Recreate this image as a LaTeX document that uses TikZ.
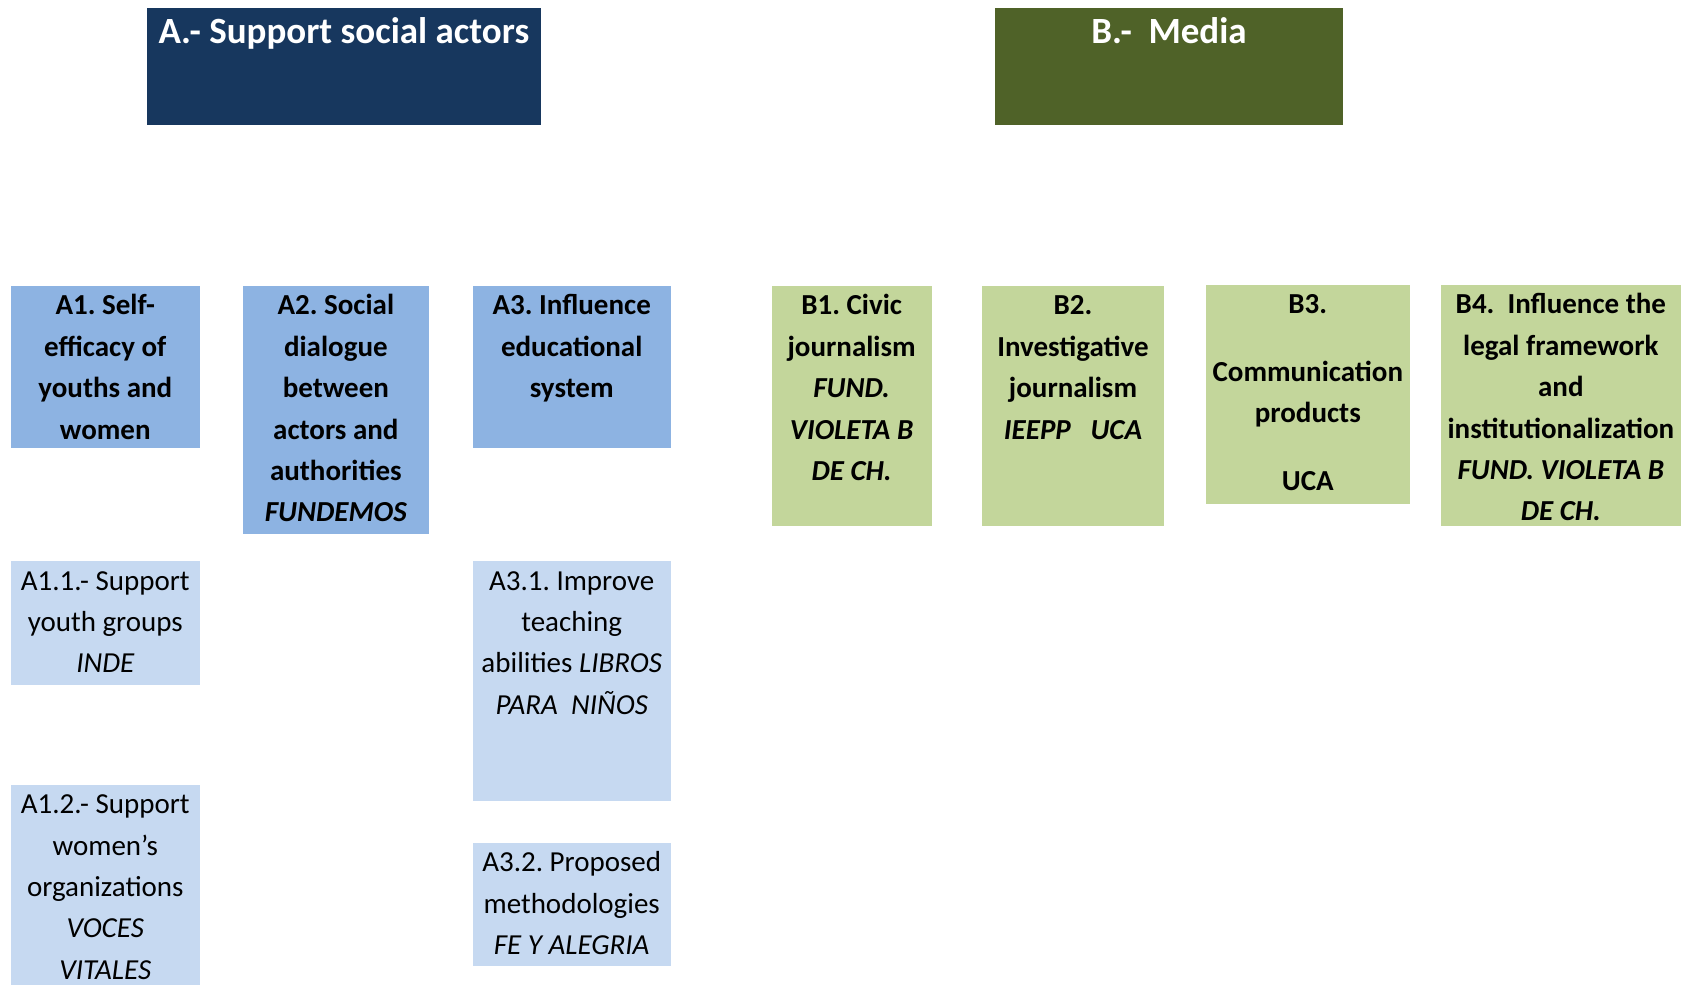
\documentclass[tikz,border=0pt]{standalone}
\usepackage{fontspec}
\setmainfont{Carlito}
\frenchspacing
\definecolor{navyA}{HTML}{17375E}
\definecolor{oliveB}{HTML}{4F6228}
\definecolor{blueMid}{HTML}{8DB3E2}
\definecolor{blueLight}{HTML}{C6D9F1}
\definecolor{greenMid}{HTML}{C3D69B}
\begin{document}
\begin{tikzpicture}[x=1pt,y=-1pt,
  box/.style={draw=none,inner sep=0pt,outer sep=0pt,anchor=north west},
  headtext/.style={anchor=north,inner sep=0pt,align=center,text=white,
    font=\fontsize{37}{44.4}\selectfont\bfseries},
  bodytext/.style={anchor=north,inner sep=0pt,align=center,text=black,
    font=\fontsize{29}{41.4}\selectfont},
  boldtext/.style={bodytext,font=\fontsize{29}{41.4}\selectfont\bfseries}]
\useasboundingbox (0,0) rectangle (1685,985);

% top-level headers
\node[box,fill=navyA,minimum width=393.3pt,minimum height=117.2pt] (A) at (147.2,7.5) {};
\node[box,fill=oliveB,minimum width=348pt,minimum height=117.2pt] (B) at (995,7.5) {};
\node[headtext,yshift=-4.5pt] (At) at (A.north) {\strut A.- Support social actors};
\node[headtext,yshift=-4.5pt] (Bt) at (B.north) {\strut B.-\ \ Media};

% A branch, second level
\node[box,fill=blueMid,minimum width=189.2pt,minimum height=162.3pt] (A1) at (10.7,285.8) {};
\node[box,fill=blueMid,minimum width=185.9pt,minimum height=248.3pt] (A2) at (242.9,285.8) {};
\node[box,fill=blueMid,minimum width=197.8pt,minimum height=162.3pt] (A3) at (472.8,285.8) {};
\node[boldtext] (A1t) at (A1.north) {\strut A1. Self-\\efficacy of\\youths and\\women};
\node[boldtext] (A2t) at (A2.north) {\strut A2. Social\\dialogue\\between\\actors and\\authorities\\\itshape FUNDEMOS};
\node[boldtext] (A3t) at (A3.north) {\strut A3. Influence\\educational\\system};

% B branch, second level
\node[box,fill=greenMid,minimum width=160.1pt,minimum height=239.7pt] (B1) at (771.6,285.8) {};
\node[box,fill=greenMid,minimum width=181.6pt,minimum height=239.7pt] (B2) at (982.2,285.8) {};
\node[box,fill=greenMid,minimum width=204.2pt,minimum height=219.2pt] (B3) at (1205.7,284.8) {};
\node[box,fill=greenMid,minimum width=239.7pt,minimum height=240.7pt] (B4) at (1441,284.8) {};
\node[boldtext] (B1t) at (B1.north) {\strut B1. Civic\\journalism\\\itshape FUND.\\\itshape VIOLETA B\\\itshape DE CH.};
\node[boldtext] (B2t) at (B2.north) {\strut B2.\\Investigative\\journalism\\\itshape IEEPP\ \ \ UCA};
\node[boldtext] (B3t) at (B3.north) {\strut B3.\\[26pt]Communication\\products\\[26pt]UCA};
\node[boldtext] (B4t) at (B4.north) {\strut B4.\ \ Influence the\\legal framework\\and\\institutionalization\\\itshape FUND. VIOLETA B\\\itshape DE CH.};

% A branch, third level
\node[box,fill=blueLight,minimum width=189.2pt,minimum height=123.5pt] (A11) at (10.7,561) {};
\node[box,fill=blueLight,minimum width=189.2pt,minimum height=200.5pt] (A12) at (10.7,784.5) {};
\node[box,fill=blueLight,minimum width=197.8pt,minimum height=239.6pt] (A31) at (472.8,561) {};
\node[box,fill=blueLight,minimum width=197.8pt,minimum height=123.5pt] (A32) at (472.8,842.5) {};
\node[bodytext] (A11t) at (A11.north) {\strut A1.1.- Support\\youth groups\\\itshape INDE};
\node[bodytext] (A12t) at (A12.north) {\strut A1.2.- Support\\women’s\\organizations\\\itshape VOCES\\\itshape VITALES};
\node[bodytext] (A31t) at (A31.north) {\strut A3.1. Improve\\teaching\\abilities \textit{LIBROS}\\\itshape PARA\ \ NIÑOS};
\node[bodytext] (A32t) at (A32.north) {\strut A3.2. Proposed\\methodologies\\\itshape FE Y ALEGRIA};
\end{tikzpicture}
\end{document}
